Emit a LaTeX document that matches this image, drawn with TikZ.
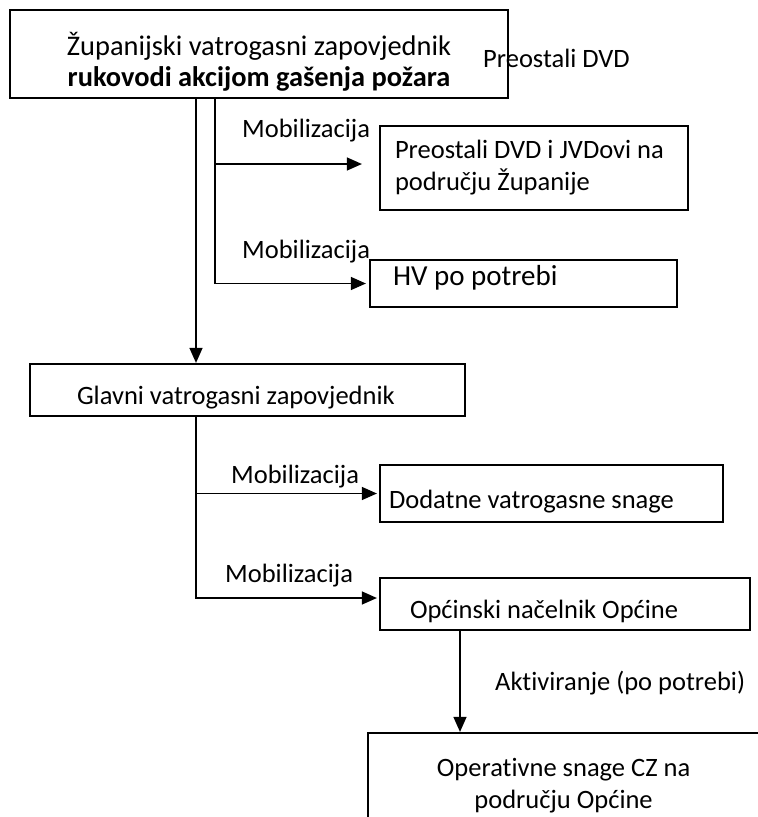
\documentclass[tikz,border=0pt]{standalone}
\usepackage{fontspec}
\setmainfont{Carlito}[Ligatures=NoCommon]
\usetikzlibrary{positioning,arrows.meta,calc}
\tikzset{
  orgbox/.style={draw=black, line width=2.2pt, rectangle, inner ysep=0pt,
                 align=flush left, font=\fontsize{26.5}{32}\selectfont},
  orglbl/.style={font=\fontsize{26.5}{32}\selectfont, inner sep=0pt, anchor=base west},
  orgline/.style={draw=black, line width=1.3pt},
  orgarr/.style={orgline, -{Triangle[length=15pt,width=13pt]}},
}

\begin{document}
\begin{tikzpicture}[x=1pt,y=-1pt]
    \useasboundingbox (0,0) rectangle (758,817);

      % boxes
      \node[orgbox, align=flush center, minimum width=498pt, minimum height=88pt,
            font=\fontsize{28.4}{31}\selectfont, text height=71pt, text depth=7pt] (zup) at (259,54)
            {Županijski vatrogasni zapovjednik\\\textbf{rukovodi akcijom gašenja požara}};
      \node[orgbox, text width=278pt, inner xsep=15pt, minimum height=84pt] (dvdbox) at (534,168)
            {Preostali DVD i JVDovi na\\području Županije};
      \node[orgbox, text width=261pt, inner xsep=23pt, minimum height=47pt,
            font=\fontsize{29}{34}\selectfont, text height=20pt, text depth=17pt] (hvbox) at (523.5,283.5)
            {HV po potrebi};
      \node[orgbox, text width=341pt, inner xsep=47pt, minimum height=52pt,
            text height=34pt, text depth=6pt] (glavni) at (247.5,390)
            {Glavni vatrogasni zapovjednik};
      \node[orgbox, text width=325pt, inner xsep=9pt, minimum height=57pt,
            text height=35pt, text depth=6pt] (dodbox) at (551.5,493.5)
            {Dodatne vatrogasne snage};
      \node[orgbox, text width=310pt, inner xsep=30pt, minimum height=52pt,
            text height=34pt, text depth=6pt] (opcbox) at (565,604)
            {Općinski načelnik Općine};
      \node[orgbox, align=flush center, text width=391pt, inner xsep=0pt, minimum height=106pt] (czbox) at (563.6,786)
            {Operativne snage CZ na\\području Općine};

      % free labels
      \node[orglbl] (dvdrest) at (483,67) {Preostali DVD};
      \node[orglbl] (mob1) at (242,137) {Mobilizacija};
      \node[orglbl] (mob2) at (242,258) {Mobilizacija};
      \node[orglbl] (mob3) at (231,483) {Mobilizacija};
      \node[orglbl] (mob4) at (225,582) {Mobilizacija};
      \node[orglbl] (akt) at (495,690) {Aktiviranje (po potrebi)};

      % connectors
      \coordinate (colA) at (196,0);
      \coordinate (colB) at (215,0);
      \coordinate (colC) at (460,0);

      \draw[orgarr] (zup.south -| colA) -- (glavni.north -| colA);
      \draw[orgarr] (zup.south -| colB) |- ([xshift=-3pt]hvbox.west);
      \draw[orgarr] ($(colB |- dvdbox.west)+(0,-4)$) -- ($(dvdbox.west)+(-17,-4)$);

      \draw[orgarr] (glavni.south -| colA) |- ($(opcbox.west)+(-2,-6)$);
      \draw[orgarr] (colA |- dodbox.west) -- ([xshift=-2pt]dodbox.west);
      \draw[orgarr] (opcbox.south -| colC) -- (czbox.north -| colC);

\end{tikzpicture}
\end{document}
